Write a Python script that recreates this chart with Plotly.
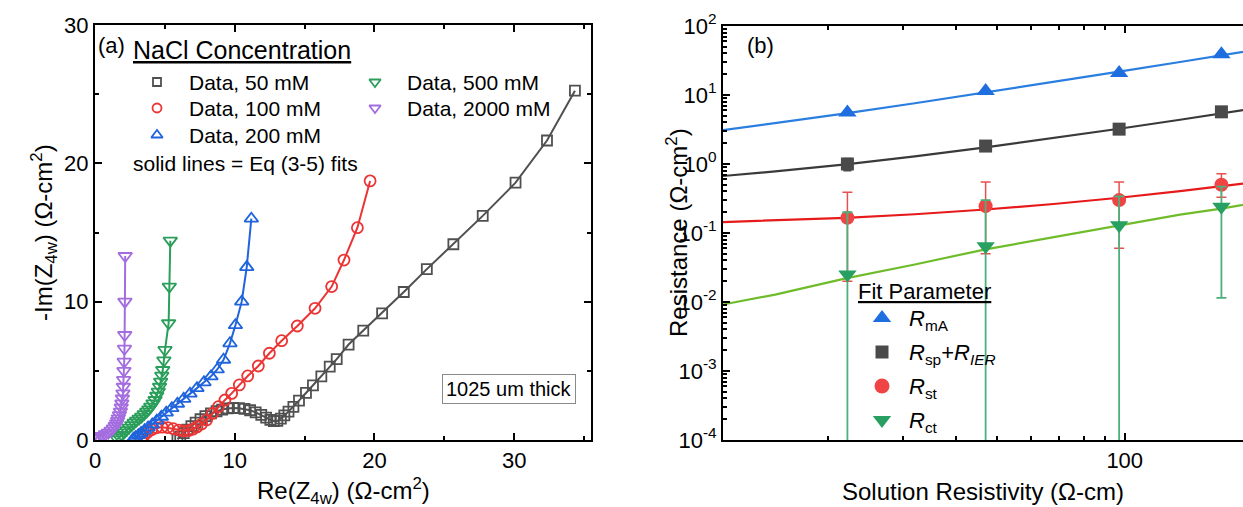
import math
import plotly.graph_objects as go

FONT = "Arial, 'Liberation Sans', sans-serif"

# ---------------- (a) Nyquist data: Re(Z4w), -Im(Z4w) in ohm-cm^2 ----------------
re_50 = [5.9, 6.1, 6.35, 6.6, 6.9, 7.2, 7.55, 7.9, 8.3, 8.7, 9.1, 9.5, 9.9, 10.3, 10.7,
         11.1, 11.5, 11.9, 12.25, 12.55, 12.8, 13.05, 13.3, 13.55, 13.85, 14.2, 14.6,
         15.1, 15.6, 16.2, 16.8, 17.3, 18.15, 19.2, 20.55, 22.1, 23.75, 25.65, 27.75,
         30.1, 32.35, 34.35]
im_50 = [0.05, 0.25, 0.5, 0.75, 1.0, 1.25, 1.5, 1.72, 1.92, 2.08, 2.2, 2.28, 2.32, 2.3,
         2.25, 2.15, 2.0, 1.82, 1.62, 1.45, 1.37, 1.38, 1.55, 1.78, 2.05, 2.4, 2.85,
         3.4, 3.95, 4.6, 5.3, 5.85, 6.9, 7.9, 9.15, 10.7, 12.35, 14.15, 16.2, 18.6,
         21.65, 25.25]

re_100 = [3.3, 3.5, 3.75, 4.05, 4.4, 4.8, 5.2, 5.6, 6.0, 6.35, 6.7, 7.0, 7.3, 7.63, 7.99,
          8.42, 8.83, 9.3, 9.78, 10.33, 10.93, 11.69, 12.48, 13.36, 14.48, 15.75,
          16.94, 17.82, 18.78, 19.69]
im_100 = [0.05, 0.3, 0.55, 0.75, 0.88, 0.93, 0.9, 0.82, 0.72, 0.66, 0.68, 0.78, 0.95,
          1.15, 1.45, 1.93, 2.41, 2.89, 3.37, 3.98, 4.63, 5.35, 6.27, 7.18, 8.24, 9.52,
          11.09, 13.01, 15.35, 18.73]

re_200 = [2.75, 2.9, 3.1, 3.3, 3.55, 3.8, 4.1, 4.42, 4.75, 5.1, 5.5, 5.9, 6.35, 6.8, 7.3,
          7.8, 8.3, 8.75, 9.2, 9.66, 10.05, 10.5, 10.86, 11.19]
im_200 = [0.1, 0.2, 0.35, 0.5, 0.7, 0.9, 1.12, 1.4, 1.68, 1.98, 2.3, 2.62, 2.98, 3.35,
          3.75, 4.17, 4.6, 5.1, 5.8, 6.99, 8.3, 10.0, 12.5, 16.0]

re_500 = [1.6, 1.75, 1.91, 2.1, 2.27, 2.45, 2.63, 2.8, 2.98, 3.16, 3.34, 3.52, 3.7, 3.85,
          3.99, 4.15, 4.3, 4.42, 4.53, 4.62, 4.7, 4.78, 4.85, 4.93, 5.01, 5.27, 5.32, 5.39]
im_500 = [0.05, 0.2, 0.36, 0.55, 0.72, 0.9, 1.08, 1.25, 1.4, 1.55, 1.69, 1.87, 2.05, 2.22,
          2.41, 2.65, 2.89, 3.2, 3.49, 3.85, 4.22, 4.65, 5.06, 5.75, 6.51, 8.44, 11.09, 14.41]

re_2000 = [0.0, 0.25, 0.48, 0.75, 0.95, 1.15, 1.31, 1.45, 1.55, 1.62, 1.67, 1.75, 1.82,
           1.88, 1.92, 1.96, 2.0, 2.03, 2.05, 2.07, 2.09, 2.11, 2.13, 2.14, 2.16]
im_2000 = [0.1, 0.2, 0.29, 0.42, 0.53, 0.68, 0.84, 1.02, 1.2, 1.38, 1.57, 1.8, 2.05, 2.35,
           2.65, 3.0, 3.37, 3.85, 4.34, 5.0, 5.66, 6.6, 7.59, 10.0, 13.3]

conc_labels = ["Data, 50 mM", "Data, 100 mM", "Data, 200 mM", "Data, 500 mM", "Data, 2000 mM"]

# ---------------- (b) fitted parameters vs solution resistivity ----------------
rho = [22.2, 47.0, 97.0, 169.0]            # ohm-cm
r_ma = [5.6, 11.4, 20.8, 39.0]
r_sp = [1.0, 1.82, 3.2, 5.7]
r_sp_hi = [1.2, 2.05, 3.6, 6.3]
r_sp_lo = [0.8, 1.6, 2.85, 5.1]
r_st = [0.166, 0.245, 0.30, 0.50]
r_st_hi = [0.39, 0.55, 0.55, 0.72]
r_st_lo = [0.02, 0.05, 0.06, 0.33]
r_ct = [0.025, 0.064, 0.13, 0.24]
r_ct_hi = [0.2, 0.3, 0.34, 0.47]
r_ct_lo = [1e-6, 1e-6, 1e-6, 0.0115]

# fitted curves
rho_fit = [11.3, 15, 22, 32, 47, 68, 97, 135, 169, 190]
fit_ma = [3.1, 3.9, 5.4, 7.6, 10.9, 15.5, 21.8, 30.1, 37.5, 42.1]
fit_sp = [0.67, 0.78, 0.99, 1.29, 1.74, 2.37, 3.24, 4.38, 5.4, 6.03]
fit_st = [0.144, 0.152, 0.166, 0.187, 0.219, 0.263, 0.324, 0.404, 0.475, 0.519]
fit_ct = [0.0092, 0.0128, 0.022, 0.035, 0.058, 0.087, 0.13, 0.185, 0.225, 0.255]

param_labels = ["<i>R</i><sub>mA</sub>",
                "<i>R</i><sub>sp</sub>+<i>R</i><sub><i>IER</i></sub>",
                "<i>R</i><sub>st</sub>",
                "<i>R</i><sub>ct</sub>"]

# colours
C_GRAY, C_RED, C_BLUE, C_GREEN, C_PURPLE = "#505050", "#eb3434", "#1f64dc", "#2a9e5a", "#a46ddf"
B_BLUE, B_GRAY, B_RED, B_GREEN = "#1e6ee0", "#4a4a4a", "#f04444", "#27a062"
L_BLUE, L_GRAY, L_RED, L_GREEN = "#2a7ee0", "#3a3a3a", "#e61a1a", "#6fbc2a"
ERR_GREEN, ERR_RED = "#4cb07c", "#e85050"

fig = go.Figure()

# ---- panel (a) ----
nyq = [
    (re_50, im_50, C_GRAY, "square-open", 10),
    (re_100, im_100, C_RED, "circle-open", 11),
    (re_200, im_200, C_BLUE, "triangle-up-open", 12),
    (re_500, im_500, C_GREEN, "triangle-down-open", 12),
    (re_2000, im_2000, C_PURPLE, "triangle-down-open", 12),
]
for xs, ys, col, sym, sz in nyq:
    fig.add_trace(go.Scatter(
        x=xs, y=ys, mode="lines+markers", xaxis="x", yaxis="y", showlegend=False,
        line=dict(color=col, width=2),
        marker=dict(symbol=sym, size=sz, color=col, line=dict(color=col, width=1.8)),
    ))

# ---- panel (b): fit curves ----
for yy, col in [(fit_ma, L_BLUE), (fit_sp, L_GRAY), (fit_st, L_RED), (fit_ct, L_GREEN)]:
    fig.add_trace(go.Scatter(x=rho_fit, y=yy, mode="lines", xaxis="x2", yaxis="y2",
                             showlegend=False, line=dict(color=col, width=2.2)))


def err(vals, hi, lo):
    return dict(type="data", symmetric=False,
                array=[h - v for h, v in zip(hi, vals)],
                arrayminus=[v - l for v, l in zip(vals, lo)])


fig.add_trace(go.Scatter(x=rho, y=r_ma, mode="markers", xaxis="x2", yaxis="y2", showlegend=False,
                         marker=dict(symbol="triangle-up", size=16, color=B_BLUE)))
fig.add_trace(go.Scatter(x=rho, y=r_sp, mode="markers", xaxis="x2", yaxis="y2", showlegend=False,
                         marker=dict(symbol="square", size=13, color=B_GRAY),
                         error_y=dict(**err(r_sp, r_sp_hi, r_sp_lo), color=B_GRAY, thickness=1.5, width=4)))
fig.add_trace(go.Scatter(x=rho, y=r_st, mode="markers", xaxis="x2", yaxis="y2", showlegend=False,
                         marker=dict(symbol="circle", size=14, color=B_RED),
                         error_y=dict(**err(r_st, r_st_hi, r_st_lo), color=ERR_RED, thickness=1.5, width=5)))
fig.add_trace(go.Scatter(x=rho, y=r_ct, mode="markers", xaxis="x2", yaxis="y2", showlegend=False,
                         marker=dict(symbol="triangle-down", size=16, color=B_GREEN),
                         error_y=dict(**err(r_ct, r_ct_hi, r_ct_lo), color=ERR_GREEN, thickness=1.8, width=5)))

# ---- legend keys drawn on a full-page overlay axis (pixel units) ----
key_a = [(157, 82, C_GRAY, "square-open", 8), (157, 108, C_RED, "circle-open", 9),
         (157, 135, C_BLUE, "triangle-up-open", 10), (375, 82, C_GREEN, "triangle-down-open", 10),
         (375, 108, C_PURPLE, "triangle-down-open", 10)]
for kx, ky, col, sym, sz in key_a:
    fig.add_trace(go.Scatter(x=[kx], y=[ky], mode="markers", xaxis="x3", yaxis="y3", showlegend=False,
                             marker=dict(symbol=sym, size=sz, color=col, line=dict(color=col, width=1.8))))
key_b = [(882, 318, B_BLUE, "triangle-up", 16), (882, 352, B_GRAY, "square", 13),
         (882, 386, B_RED, "circle", 15), (882, 420, B_GREEN, "triangle-down", 16)]
for kx, ky, col, sym, sz in key_b:
    fig.add_trace(go.Scatter(x=[kx], y=[ky], mode="markers", xaxis="x3", yaxis="y3", showlegend=False,
                             marker=dict(symbol=sym, size=sz, color=col)))

W, H = 1243, 507
ax_common = dict(showgrid=False, zeroline=False, showline=True, linecolor="black", linewidth=2,
                 ticks="inside", ticklen=7, tickwidth=2, tickcolor="black", automargin=False,
                 tickfont=dict(family=FONT, size=22, color="black"))

minor_y = [m * 10.0 ** e for e in range(-4, 2) for m in range(2, 10)]

fig.update_layout(
    template="none",
    width=W, height=H, margin=dict(l=0, r=0, t=0, b=0, pad=0, autoexpand=False),
    paper_bgcolor="white", plot_bgcolor="rgba(0,0,0,0)", font=dict(family=FONT, color="black"),
    xaxis=dict(domain=[95 / W, 591 / W], anchor="y", range=[0, 35.5], dtick=10, mirror="ticks",
               minor=dict(dtick=5, ticks="inside", ticklen=4, tickwidth=2, tickcolor="black"),
               **ax_common),
    yaxis=dict(domain=[(H - 440) / H, (H - 25) / H], anchor="x", range=[0, 30], dtick=10, mirror="ticks",
               minor=dict(dtick=5, ticks="inside", ticklen=4, tickwidth=2, tickcolor="black"),
               **ax_common),
    xaxis2=dict(domain=[723 / W, 1.0], anchor="y2", type="log",
                range=[math.log10(11.3), math.log10(190)], tickvals=[100], ticktext=["100"], mirror="ticks",
                minor=dict(tickvals=[20, 30, 40, 50, 60, 70, 80, 90], ticks="inside", ticklen=4,
                           tickwidth=2, tickcolor="black"),
                **ax_common),
    yaxis2=dict(domain=[(H - 440) / H, (H - 26) / H], anchor="x2", type="log", range=[-4, 2],
                tickvals=[10.0 ** e for e in range(-4, 3)],
                ticktext=[f"10<sup>{e}</sup>" for e in range(-4, 3)],
                minor=dict(tickvals=minor_y, ticks="inside", ticklen=4, tickwidth=1.5, tickcolor="black"),
                **ax_common),
    xaxis3=dict(domain=[0, 1], anchor="y3", range=[0, W], visible=False, fixedrange=True,
                automargin=False),
    yaxis3=dict(domain=[0, 1], anchor="x3", range=[H, 0], visible=False, fixedrange=True,
                automargin=False),
)

ann = []


def text(x, y, s, size=22, xanchor="left", angle=0, **kw):
    ann.append(dict(x=x, y=y, xref="x3", yref="y3", text=s, showarrow=False, xanchor=xanchor,
                    yanchor="middle", textangle=angle, font=dict(family=FONT, size=size, color="black"),
                    **kw))


# axis titles
text(343, 491, "Re(Z<sub>4w</sub>) (Ω-cm<sup>2</sup>)", size=24, xanchor="center")
text(44, 233, "-Im(Z<sub>4w</sub>) (Ω-cm<sup>2</sup>)", size=24, xanchor="center", angle=-90)
text(983, 491, "Solution Resistivity (Ω-cm)", size=24, xanchor="center")
text(677, 233, "Resistance (Ω-cm<sup>2</sup>)", size=24, xanchor="center", angle=-90)

# panel (a) legend / notes
text(96, 45, "(a)", size=22)
text(131, 50, "<u>NaCl Concentration</u>", size=25)
for (kx, ky, *_), lab in zip(key_a, conc_labels):
    text(kx + 30, ky, lab, size=21)
text(131, 163, "solid lines = Eq (3-5) fits", size=21)
text(509, 389, "1025 um thick", size=20, xanchor="center",
     bordercolor="#8a8a8a", borderwidth=1, borderpad=3, bgcolor="white")

# panel (b) legend
text(745, 45, "(b)", size=22)
text(856, 291, "<u>Fit Parameter</u>", size=22)
for (kx, ky, *_), lab in zip(key_b, param_labels):
    text(kx + 25, ky + 2, lab, size=22)

fig.update_layout(annotations=ann)
fig.write_html("out.html",
               post_script="document.body.style.margin='0';document.body.style.overflow='hidden';")
